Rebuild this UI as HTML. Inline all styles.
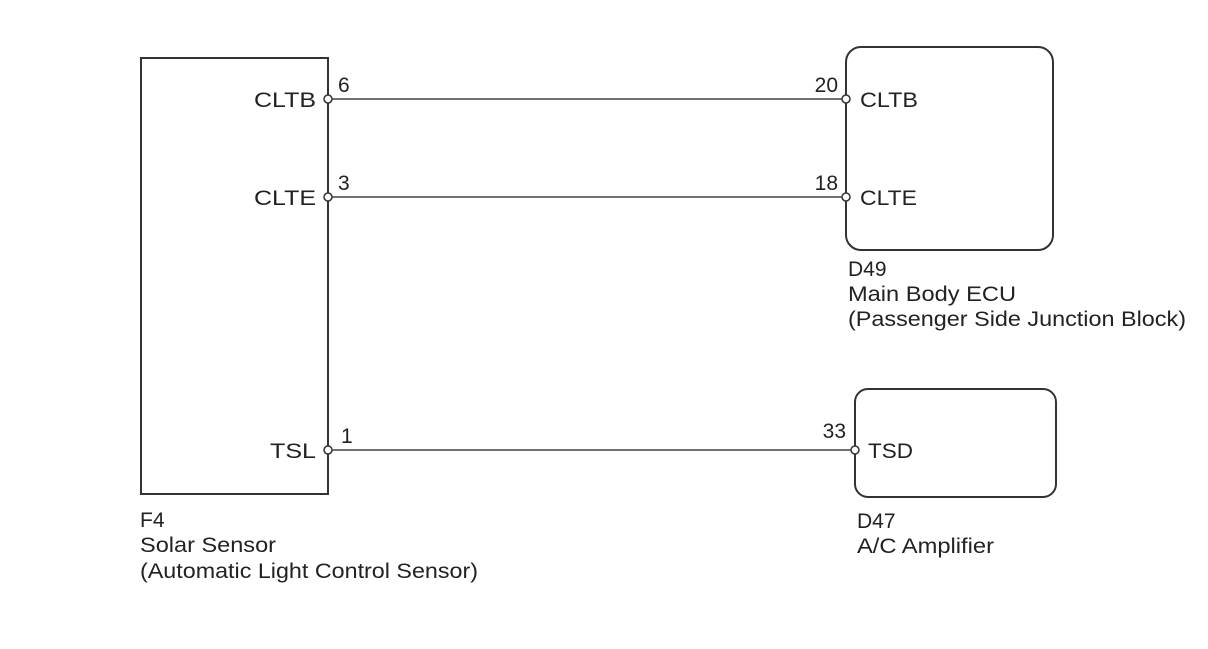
<!DOCTYPE html>
<html><head><style>body{margin:0;background:#fff}</style></head><body>
<svg width="1208" height="644" xmlns="http://www.w3.org/2000/svg" font-family="Liberation Sans, Arial, sans-serif" font-size="21" fill="#222">
<rect x="0" y="0" width="1208" height="644" fill="#fff"/>
<g fill="none" stroke="#333" stroke-width="2">
<rect x="141" y="58" width="187" height="436"/>
<rect x="846" y="47" width="207" height="203" rx="15"/>
<rect x="855" y="389" width="201" height="108" rx="13"/>
</g>
<g stroke="#444" stroke-width="1.5">
<line x1="332" y1="99" x2="842" y2="99"/>
<line x1="332" y1="197" x2="842" y2="197"/>
<line x1="332" y1="450" x2="851" y2="450"/>
</g>
<g fill="#fff" stroke="#333" stroke-width="1.5">
<circle cx="328" cy="99" r="4"/><circle cx="328" cy="197" r="4"/><circle cx="328" cy="450" r="4"/>
<circle cx="846" cy="99" r="4"/><circle cx="846" cy="197" r="4"/><circle cx="855" cy="450" r="4"/>
</g>
<g text-anchor="end">
<text x="316" y="107" textLength="62" lengthAdjust="spacingAndGlyphs">CLTB</text>
<text x="316" y="205" textLength="62" lengthAdjust="spacingAndGlyphs">CLTE</text>
<text x="316" y="458" textLength="46" lengthAdjust="spacingAndGlyphs">TSL</text>
<text x="838" y="92">20</text><text x="838" y="190">18</text><text x="846" y="438">33</text>
</g>
<text x="338" y="92">6</text><text x="338" y="190">3</text><text x="341" y="443">1</text>
<text x="860" y="107" textLength="58" lengthAdjust="spacingAndGlyphs">CLTB</text>
<text x="860" y="205" textLength="57" lengthAdjust="spacingAndGlyphs">CLTE</text>
<text x="868" y="458" textLength="45" lengthAdjust="spacingAndGlyphs">TSD</text>
<text x="848" y="276">D49</text>
<text x="848" y="301" textLength="168" lengthAdjust="spacingAndGlyphs">Main Body ECU</text>
<text x="848" y="326" textLength="338" lengthAdjust="spacingAndGlyphs">(Passenger Side Junction Block)</text>
<text x="140" y="527">F4</text>
<text x="140" y="552" textLength="136" lengthAdjust="spacingAndGlyphs">Solar Sensor</text>
<text x="140" y="578" textLength="338" lengthAdjust="spacingAndGlyphs">(Automatic Light Control Sensor)</text>
<text x="857" y="528">D47</text>
<text x="857" y="553" textLength="137" lengthAdjust="spacingAndGlyphs">A/C Amplifier</text>
</svg>
</body></html>
